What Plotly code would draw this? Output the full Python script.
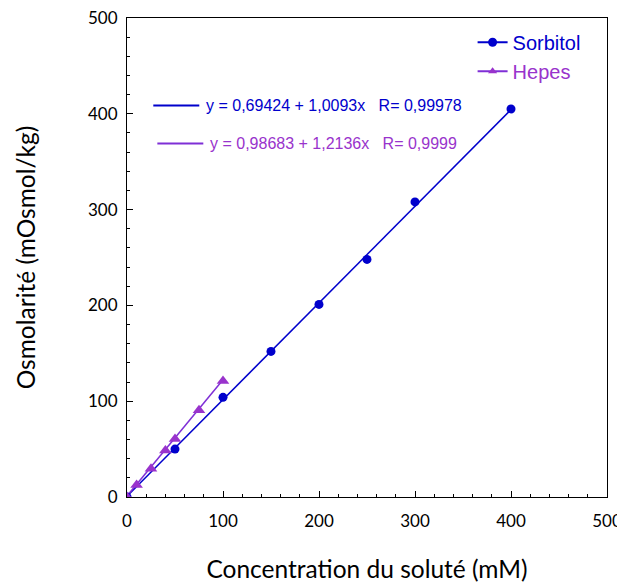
import plotly.graph_objects as go

# Data
sorb_x = [0, 50, 100, 150, 200, 250, 300, 400]
sorb_y = [0, 50, 104, 152, 201, 248, 308, 405]
hepes_x = [0, 10, 25, 40, 50, 75, 100]
hepes_y = [0, 12.5, 29.5, 48.5, 60.5, 90.5, 121]

sorb_fit = (0.69424, 1.0093)
hepes_fit = (0.98683, 1.2136)
sorb_label = "y = 0,69424 + 1,0093x   R= 0,99978"
hepes_label = "y = 0,98683 + 1,2136x   R= 0,9999"

BLUE = "#0000cc"
PURPLE_LINE = "#7f2fd6"
PURPLE_TXT = "#9933cc"

fig = go.Figure()

def fit_line(xs, coef):
    x0, x1 = min(xs), max(xs)
    return [x0, x1], [coef[0] + coef[1] * x0, coef[0] + coef[1] * x1]

fx, fy = fit_line(sorb_x, sorb_fit)
fig.add_trace(go.Scatter(x=fx, y=fy, mode="lines", line=dict(color=BLUE, width=1.5),
                         showlegend=False, hoverinfo="skip"))
fx, fy = fit_line(hepes_x, hepes_fit)
fig.add_trace(go.Scatter(x=fx, y=fy, mode="lines", line=dict(color=PURPLE_LINE, width=1.5),
                         showlegend=False, hoverinfo="skip"))

fig.add_trace(go.Scatter(x=sorb_x, y=sorb_y, mode="markers",
                         marker=dict(symbol="circle", size=9, color=BLUE),
                         name="Sorbitol", showlegend=False))
fig.add_trace(go.Scatter(x=hepes_x, y=hepes_y, mode="markers",
                         marker=dict(symbol="triangle-up", size=11, color=PURPLE_TXT),
                         name="Hepes", showlegend=False))

# legend entries (line + marker)
fig.add_trace(go.Scatter(x=[None], y=[None], mode="lines+markers",
                         line=dict(color=BLUE, width=2),
                         marker=dict(symbol="circle", size=9, color=BLUE),
                         name=f"<span style='color:{BLUE}'>Sorbitol</span>"))
fig.add_trace(go.Scatter(x=[None], y=[None], mode="lines+markers",
                         line=dict(color=PURPLE_LINE, width=2),
                         marker=dict(symbol="triangle-up", size=8, color=PURPLE_TXT),
                         name=f"<span style='color:{PURPLE_TXT}'>Hepes</span>"))

# equation labels
fig.add_shape(type="line", x0=27.4, x1=75.3, y0=408.6, y1=408.6,
              line=dict(color=BLUE, width=2))
fig.add_annotation(x=80.5, y=408.6, text=sorb_label, showarrow=False, xanchor="left",
                   font=dict(family="Liberation Sans, Arial", size=16, color=BLUE))
fig.add_shape(type="line", x0=31.6, x1=79.5, y0=368.9, y1=368.9,
              line=dict(color=PURPLE_LINE, width=2))
fig.add_annotation(x=84.7, y=368.9, text=hepes_label, showarrow=False, xanchor="left",
                   font=dict(family="Liberation Sans, Arial", size=16, color=PURPLE_TXT))

axis_common = dict(
    showline=True, linecolor="black", linewidth=1, mirror=True,
    ticks="inside", ticklen=6, tickcolor="black", tickwidth=1,
    showgrid=False, zeroline=False, automargin=False, ticklabeloverflow="allow",
    tickfont=dict(family="Lato, Open Sans", size=17, color="black"),
    minor=dict(ticks="inside", ticklen=3, tickcolor="black", dtick=20, showgrid=False),
)

# page has an 8px body margin, so the figure is 8px smaller and margins shifted
fig.update_layout(
    width=617, height=575,
    margin=dict(l=119, r=18, t=10, b=86),
    plot_bgcolor="white", paper_bgcolor="white",
    xaxis=dict(range=[0, 500], dtick=100, tick0=0, ticklabelstandoff=9,
               title=dict(text="Concentration du soluté (mM)", standoff=34,
                          font=dict(family="Lato, Open Sans", size=24.5, color="black")),
               **axis_common),
    yaxis=dict(range=[0, 500], dtick=100, tick0=0, ticklabelstandoff=5,
               title=dict(text="Osmolarité (mOsmol/kg)", standoff=45,
                          font=dict(family="Lato, Open Sans", size=24.5, color="black")),
               **axis_common),
    legend=dict(x=0.72, y=0.99, xanchor="left", yanchor="top",
                bgcolor="rgba(0,0,0,0)",
                font=dict(family="Liberation Sans, Arial", size=20),
                tracegroupgap=0, itemsizing="trace"),
    showlegend=True,
)

fig.write_html("out.html")
